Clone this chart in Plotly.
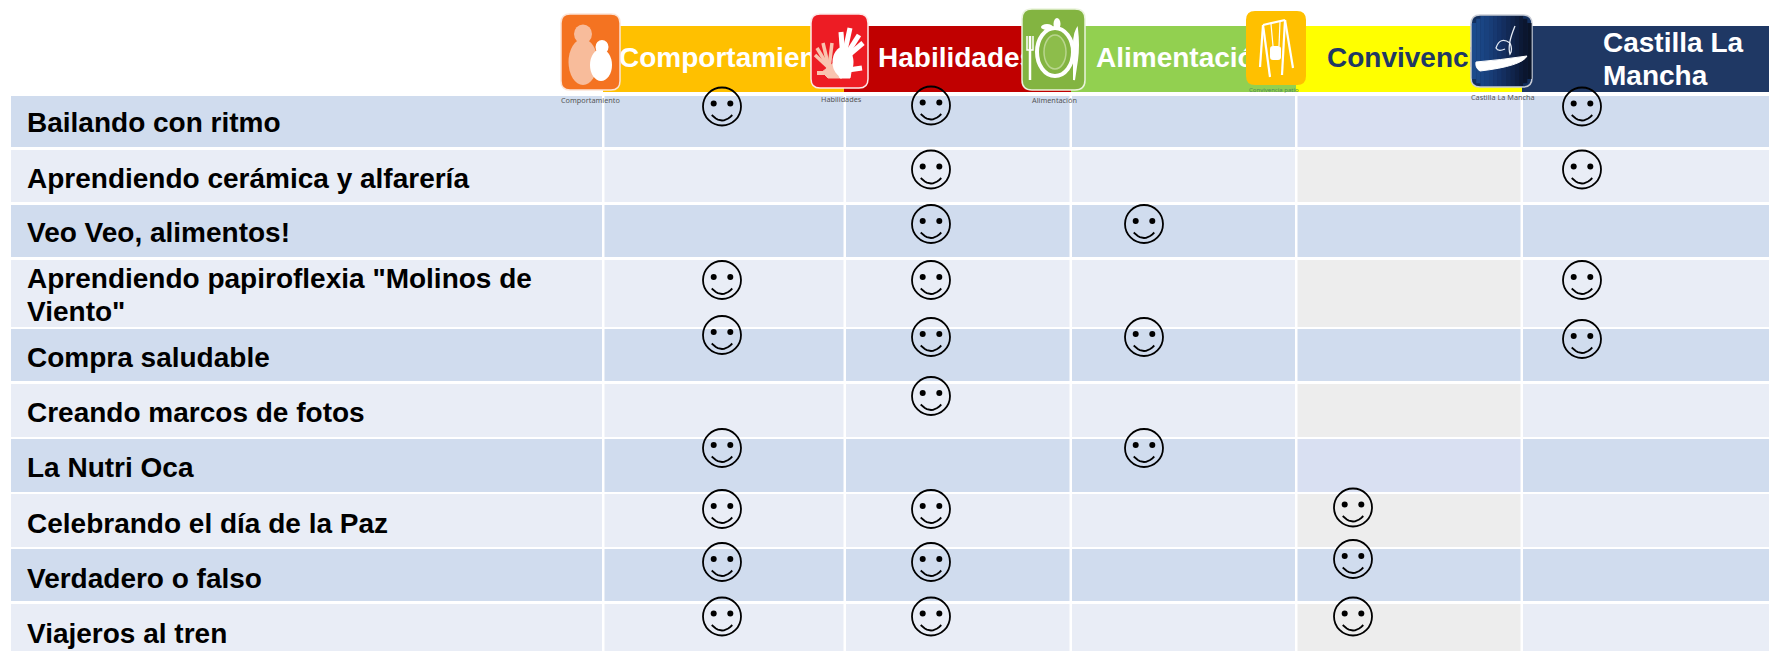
import plotly.graph_objects as go

# ---------- data ----------
activities = [
    "Bailando con ritmo",
    "Aprendiendo cerámica y alfarería",
    "Veo Veo, alimentos!",
    'Aprendiendo papiroflexia "Molinos de<br>Viento"',
    "Compra saludable",
    "Creando marcos de fotos",
    "La Nutri Oca",
    "Celebrando el día de la Paz",
    "Verdadero o falso",
    "Viajeros al tren",
]
comportamiento = [1, 0, 0, 1, 1, 0, 1, 1, 1, 1]
habilidades = [1, 1, 1, 1, 1, 1, 0, 1, 1, 1]
alimentacion = [0, 0, 1, 0, 1, 0, 1, 0, 0, 0]
convivencia = [0, 0, 0, 0, 0, 0, 0, 1, 1, 1]
castilla = [1, 1, 0, 1, 1, 0, 0, 0, 0, 0]
headers = ["Comportamiento", "Habilidades", "Alimentación", "Convivencia", "Castilla La<br>Mancha"]
captions = ["Comportamiento", "Habilidades", "Alimentación", "Convivencia patio", "Castilla La Mancha"]

# ---------- layout (page geometry, in pixels) ----------
W, H = 1769, 651
ROW_EDGES = [(96, 147), (150, 202), (205, 257), (260, 327), (329, 381),
             (384, 437), (439, 492), (494, 547), (549, 601), (604, 660)]
COL_EDGES = [(11, 602), (604.5, 843.5), (846, 1069.5), (1072, 1295), (1297.5, 1520.5), (1523, 1769)]
BAND_EDGES = [(603, 844), (844, 1071), (1071, 1296), (1296, 1522), (1522, 1769)]
BAND_Y = (26, 92)
BAND_COLORS = ["#FFC000", "#C00000", "#92D050", "#FFFF00", "#1F3864"]
HEADER_COLORS = ["white", "white", "white", "#1F3864", "white"]
HEADER_X = [619, 878, 1096, 1327, 1603]
HEADER_Y = [60, 60, 60, 60, 45]
LABEL_Y = [125, 181, 235, 281, 360, 415, 470, 525.5, 580.5, 636]
LINE_PITCH = 32.5
MARK_X = [722, 931, 1144, 1353, 1582]
MARK_Y = [106.5, 169.5, 224, 280, 337, 396, 448, 509, 562, 616.5]
NUDGE = {(1, 0): -1, (0, 4): -2, (4, 4): 2, (3, 7): -1.5, (3, 8): -3}
ODD, EVEN = "#D0DCEE", "#E9EDF6"
GREY, LILAC = "#EDEDED", "#D9E0F2"
CONV_COLORS = [LILAC, GREY, ODD, GREY, ODD, GREY, LILAC, GREY, ODD, GREY]

shapes = []


def rect(x0, y0, x1, y1, color, layer="below"):
    shapes.append(dict(type="rect", x0=x0, y0=y0, x1=x1, y1=y1, fillcolor=color,
                       line_width=0, layer=layer))


def rounded_path(x0, y0, x1, y1, r):
    return (f"M{x0+r},{y0} L{x1-r},{y0} Q{x1},{y0} {x1},{y0+r} L{x1},{y1-r} Q{x1},{y1} {x1-r},{y1} "
            f"L{x0+r},{y1} Q{x0},{y1} {x0},{y1-r} L{x0},{y0+r} Q{x0},{y0} {x0+r},{y0} Z")


def rounded(x0, y0, x1, y1, r, color, border=None, bw=1.5):
    shapes.append(dict(type="path", path=rounded_path(x0, y0, x1, y1, r), fillcolor=color,
                       line=dict(color=border or color, width=bw if border else 0), layer="above"))


def oval(cx, cy, rx, ry, fill, line=None, lw=0):
    shapes.append(dict(type="circle", x0=cx-rx, x1=cx+rx, y0=cy-ry, y1=cy+ry,
                       fillcolor=fill, line=dict(color=line or fill, width=lw), layer="above"))


def stroke(points, color="white", width=3):
    d = "M" + " L".join(f"{x},{y}" for x, y in points)
    shapes.append(dict(type="path", path=d, line=dict(color=color, width=width), layer="above"))


def curve(d, color="white", width=3, fill=None):
    s = dict(type="path", path=d, line=dict(color=color, width=width), layer="above")
    if fill:
        s["fillcolor"] = fill
    shapes.append(s)


# table cells
for r, (y0, y1) in enumerate(ROW_EDGES):
    for c, (x0, x1) in enumerate(COL_EDGES):
        color = ODD if r % 2 == 0 else EVEN
        if c == 4:
            color = CONV_COLORS[r]
        rect(x0, y0, x1, y1, color)

# header bands
for (x0, x1), color in zip(BAND_EDGES, BAND_COLORS):
    rect(x0, BAND_Y[0], x1, BAND_Y[1], color)

# --- icon: comportamiento
rounded(561, 14, 620, 90, 9, "#F47321", "#FCE4D6", 1.5)
oval(583, 34, 9, 9.5, "#F8BC9B")
oval(583, 62, 14.5, 23, "#F8BC9B")
oval(602, 47, 6.5, 7, "white")
oval(601, 65, 11, 16, "white")
# --- icon: habilidades
rounded(811, 14, 868, 88, 9, "#ED1C24", "#FDE9E9", 1.5)
for tip in [(815, 55), (817, 48), (823, 43), (832, 43)]:
    stroke([(829, 68), tip], "#F9C4B0", 3.5)
stroke([(830, 73), (817, 73)], "#F9C4B0", 4)
curve("M822,72 L835,62 L842,78 L828,78 Z", "#F9C4B0", 1, "#F9C4B0")
oval(843, 62, 10.5, 15, "white")
for tip in [(841, 32), (850, 28), (859, 35), (863, 43)]:
    stroke([(843, 60), tip], "white", 5)
stroke([(848, 70), (862, 68)], "white", 5)
curve("M835,66 L852,66 L850,78 L840,78 Z", "white", 1, "white")
# --- icon: alimentación
rounded(1022, 9, 1085, 90, 10, "#83B441", "#EAF3DC", 1.5)
oval(1055, 52, 18, 24, "#83B441", "white", 4)
oval(1055, 52, 11, 17, "#8DBD4B", "#B9D68E", 1.5)
oval(1047, 27, 6, 3, "white")
oval(1057, 24, 3.5, 6, "white")
stroke([(1030, 36), (1030, 80)], "white", 2.5)
stroke([(1027, 36), (1027, 50), (1033, 50), (1033, 36)], "white", 1.5)
curve("M1074,80 L1074,55 Q1073,36 1077,29 Q1079,45 1077,60 Z", "white", 2, "white")
# --- icon: convivencia
rounded(1246, 11, 1306, 85, 9, "#FFC000")
stroke([(1263, 25), (1260, 67)], "white", 2.2)
stroke([(1263, 25), (1270, 77)], "white", 2.2)
stroke([(1263, 25), (1285, 20)], "white", 2.2)
stroke([(1285, 20), (1293, 68)], "white", 2.2)
stroke([(1285, 20), (1282, 75)], "white", 2.2)
stroke([(1271, 24), (1273, 46)], "white", 1.2)
stroke([(1280, 22), (1279, 46)], "white", 1.2)
rounded(1270, 46, 1281, 60, 3, "white")
# --- icon: Castilla La Mancha
rounded(1471, 15, 1532, 87, 9, "#13305F", "#C9CDD6", 1.5)
strip_cols = ["#1B4A8C", "#1B4888", "#1A4584", "#19417E", "#183D77", "#173870", "#153368",
              "#142E5F", "#122955", "#10244B", "#0E1F41", "#0C1A37", "#0B162F", "#0A1428"]
for i, col in enumerate(strip_cols):
    sx0 = 1472 + i * 4.25
    inset = max(0, 7 - i * 4.25, 7 - (13 - i) * 4.25)
    rect(sx0, 16 + inset, sx0 + 4.3, 86 - inset, col, "above")
curve("M1515,26 Q1507,45 1510,54 Q1513,50 1510,43 Q1500,36 1496,48 Q1498,52 1505,49", "#E6ECF5", 1.3)
curve("M1476,62 Q1500,60 1527,56 Q1522,66 1480,71 Q1475,68 1476,62 Z", "white", 1, "white")

fig = go.Figure()


def add_lines(x, y, label, size, color):
    # one text per line, to keep the line pitch of the reference
    for k, line in enumerate(label.split("<br>")):
        fig.add_trace(go.Scatter(
            x=[x], y=[y + k * LINE_PITCH], mode="text", text=[line], textposition="middle right",
            textfont=dict(family="Liberation Sans", size=size, color=color),
            texttemplate="<b>%{text}</b>", hoverinfo="skip", cliponaxis=False))


# header labels (drawn beneath the icons, which cut them off)
for i, label in enumerate(headers):
    add_lines(HEADER_X[i], HEADER_Y[i], label, 28, HEADER_COLORS[i])

# activity labels
for y, label in zip(LABEL_Y, activities):
    add_lines(27, y, label, 28, "black")

# smileys
series = [comportamiento, habilidades, alimentacion, convivencia, castilla]
xs, ys = [], []
for c, vals in enumerate(series):
    for r, v in enumerate(vals):
        if v:
            xs.append(MARK_X[c])
            ys.append(MARK_Y[r] + NUDGE.get((c, r), 0))

fig.add_trace(go.Scatter(x=xs, y=ys, mode="markers", hoverinfo="skip",
                         marker=dict(symbol="circle-open", size=38, color="black", line=dict(width=1.8, color="black"))))
ex, ey, mx, my = [], [], [], []
for x, y in zip(xs, ys):
    ex += [x - 8.3, x + 8.3]
    ey += [y - 3, y - 3]
    for t in range(-5, 6):
        u = t / 5
        mx.append(x + 10.3 * u)
        my.append(y + 14 - 5.5 * u * u)
    mx.append(None)
    my.append(None)
fig.add_trace(go.Scatter(x=ex, y=ey, mode="markers", hoverinfo="skip",
                         marker=dict(symbol="circle", size=6, color="black", line_width=0)))
fig.add_trace(go.Scatter(x=mx, y=my, mode="lines", hoverinfo="skip", line=dict(color="black", width=1.8)))

# icon captions
CAP_X = [590, 841, 1054, 1274, 1503]
CAP_Y = [100, 98.5, 100, 90, 97]
CAP_SIZE = [7.3, 7.3, 7.3, 6, 7.3]
CAP_COLOR = ["#555", "#555", "#555", "#4E8B55", "#555"]
annotations = [dict(x=x, y=y, text=t, showarrow=False, xref="x", yref="y",
                    font=dict(family="Noto Sans", size=s, color=col), xanchor="center", yanchor="middle")
               for x, y, t, s, col in zip(CAP_X, CAP_Y, captions, CAP_SIZE, CAP_COLOR)]

fig.update_layout(
    width=W, height=H, margin=dict(l=0, r=0, t=0, b=0), showlegend=False,
    paper_bgcolor="white", plot_bgcolor="white", shapes=shapes, annotations=annotations,
    xaxis=dict(range=[0, W], visible=False, fixedrange=True),
    yaxis=dict(range=[H, 0], visible=False, fixedrange=True),
)
fig.write_html("out.html", config=dict(displayModeBar=False),
               post_script="document.body.style.margin='0';document.body.style.overflow='hidden';")
